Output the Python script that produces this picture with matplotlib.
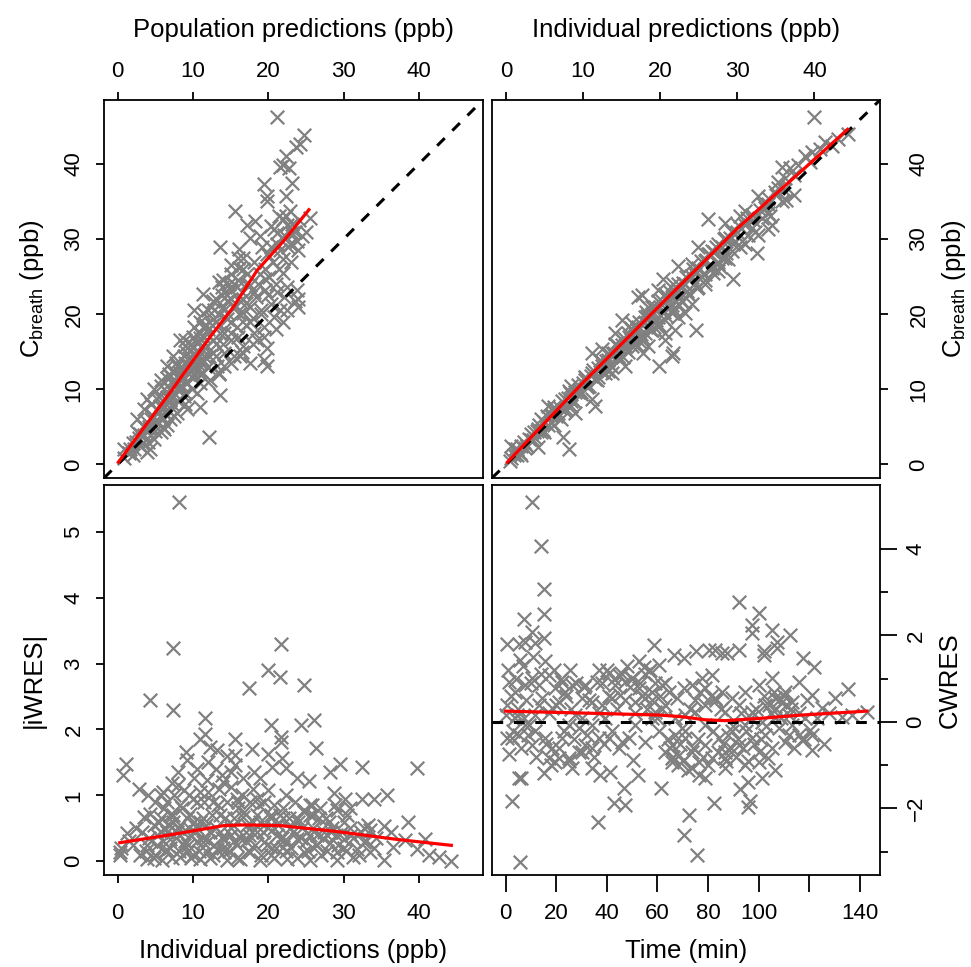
import matplotlib
matplotlib.use('Agg')
import matplotlib.pyplot as plt
from matplotlib.ticker import FixedLocator

plt.rcParams['font.family'] = ['Liberation Sans', 'DejaVu Sans']
plt.rcParams['mathtext.fontset'] = 'custom'
plt.rcParams['mathtext.rm'] = 'Liberation Sans'
plt.rcParams['mathtext.it'] = 'Liberation Sans:italic'

# ---------------- data ----------------
# Panel 1: population predictions vs observed
pred_x = [21.1,24.8,24.2,23.7,22.3,22.0,22.7,21.6,23.1,19.5,19.8,22.3,19.8,15.6,21.4,22.0,22.5,25.6,18.3,17.2,
          20.3,21.2,24.5,23.8,22.9,17.6,19.2,13.6,16.1,16.7,19.8,22.0,21.4,16.1,15.0,17.2,13.4,19.6,11.4,13.8,
          12.7,15.0,15.8,22.5,23.8,22.1,23.6,24.0,21.6,20.3,19.6,18.4,17.6,10.1,11.4,14.1,10.1,11.0,22.0,20.7,
          19.4,18.1,15.8,15.0,12.7,9.0,7.4,9.2,8.3,19.8,19.4,19.8,17.6,16.3,14.1,13.4,12.7,11.4,6.6,5.7,
          7.0,8.3,11.0,13.6,12.3,9.9,11.0,8.8,7.0,4.8,3.9,3.5,5.7,7.9,9.2,7.0,6.6,4.3,3.5,4.8,
          4.3,3.0,1.7,0.8,0.8,2.1,12.1,5.2,6.3,7.4,9.6,10.1,11.9,13.6,14.5,12.7,11.4,16.7,17.6,16.7,
          18.9,18.1,14.5,16.3,15.4,16.7,18.5,14.1,13.2,11.4,10.5,9.2,8.3,7.9,6.1,5.2,7.4,6.1,5.7,3.9,
          2.6,2.6,8.3,22.9,22.3,20.7,23.1,18.9,21.2,20.3,
          4.0,4.5,5.0,5.5,6.0,6.5,7.0,7.5,8.0,8.5,9.0,9.5,10.0,10.5,11.0,11.5,12.0,12.5,13.0,13.5,
          14.0,14.5,15.0,15.5,16.0,16.5,17.0,3.0,3.5,2.5,2.0,1.5,4.0,5.0,6.0,7.0,8.0,9.0,10.0,11.0,
          12.0,13.0,14.0,15.0,16.0,17.0,18.0,19.0,20.0,21.0,22.0,23.0,24.0,25.0,8.5,9.5,10.5,11.5,6.5,7.5,
          5.5,4.5,10.0,11.0,12.0,13.0,9.0,14.0,15.0,16.0,
          2.2,2.8,3.3,3.8,4.2,4.7,5.2,5.6,6.1,6.6,7.1,7.6,8.1,8.6,9.1,9.6,10.1,10.6,11.1,11.6,
          12.1,12.6,13.1,13.6,14.1,14.6,15.1,15.6,16.1,16.6,17.1,17.6,18.1,18.6,19.1,19.6,20.1,20.6,21.1,21.6,
          22.1,22.6,23.1,23.6,24.1,5.8,6.8,7.8,8.8,9.8,10.8,11.8,12.8,13.8,14.8,6.0,7.5,9.0,10.5,12.0,
          13.5,15.0,16.5,18.0,19.5,21.0,22.5,24.0]
pred_dv = [46.3,43.8,42.7,42.2,41.1,39.8,39.4,39.6,37.4,37.3,35.7,35.7,35.0,33.7,33.0,32.6,31.9,32.8,32.4,31.9,
           31.7,30.8,30.4,29.7,29.3,30.2,28.9,28.9,28.7,27.5,28.0,27.3,26.0,26.2,25.4,25.4,24.3,24.7,22.7,23.6,
           21.8,23.2,23.6,23.6,23.2,22.3,21.8,21.0,20.5,21.4,23.2,22.3,21.0,20.5,20.1,20.5,18.3,17.5,19.0,19.6,
           18.3,17.5,18.3,16.6,16.6,15.7,14.4,14.8,16.6,15.5,13.9,13.1,13.5,14.4,13.1,12.2,14.8,13.9,13.1,11.3,
           11.8,12.2,10.9,9.3,11.3,10.0,7.6,9.1,8.7,10.0,8.7,7.4,6.5,6.9,7.4,6.1,5.2,4.7,3.9,3.4,
           2.1,2.5,2.1,2.1,0.8,1.2,3.6,7.4,8.2,9.6,13.1,14.8,15.7,17.5,19.3,19.3,18.3,20.1,23.9,26.0,
           25.4,26.9,21.8,21.8,14.4,15.7,16.6,14.8,13.1,12.2,12.6,10.9,10.0,13.1,10.0,8.7,7.9,4.7,4.3,1.7,
           4.3,6.1,10.4,33.7,33.0,31.4,30.8,30.4,29.3,28.9,
           5.5,6.0,5.8,7.0,7.5,9.0,10.2,11.0,11.5,12.8,13.5,14.2,15.5,16.2,16.8,17.0,18.0,18.5,19.0,20.0,
           21.0,22.5,22.0,24.0,24.5,23.0,24.0,4.0,5.0,3.0,2.8,1.5,3.0,4.5,6.0,7.0,8.5,9.5,11.5,12.0,
           13.0,14.5,16.0,17.5,17.0,18.5,19.5,20.5,22.5,24.0,25.5,27.0,28.5,31.0,10.5,12.0,13.5,14.5,11.5,12.5,
           9.0,8.0,17.0,19.0,20.5,22.0,16.5,24.5,26.5,27.5,
           2.0,3.5,2.8,4.8,5.0,6.5,5.5,7.8,7.0,8.5,9.0,10.5,9.8,11.5,11.0,12.5,12.0,14.0,13.5,15.5,
           14.5,16.5,16.0,18.5,17.5,20.0,19.0,21.0,20.0,22.0,21.5,19.0,23.0,24.0,20.0,26.0,25.0,27.0,23.0,28.5,
           30.5,29.0,32.0,31.0,32.5,10.5,12.0,13.5,14.5,16.0,17.5,18.5,20.5,22.5,24.0,5.0,6.5,8.0,9.5,11.0,
           12.0,13.5,15.0,16.0,17.0,18.0,20.5,22.0]
pred_smooth_x = [0.1, 3.5, 7.0, 10.0, 12.3, 15.4, 18.5, 22.0, 25.4]
pred_smooth_y = [0.3, 4.9, 9.6, 13.8, 17.0, 21.0, 25.8, 29.7, 33.9]

# Panel 2: individual predictions vs observed
ipred_x = [39.9,44.4,43.1,40.7,38.8,39.4,35.8,36.8,35.3,37.3,32.7,34.0,26.2,28.4,31.0,30.3,31.9,34.0,32.7,32.5,
           31.0,29.7,29.5,27.5,28.0,26.2,24.9,24.1,25.8,24.5,22.3,20.4,21.7,19.7,17.6,18.4,21.5,22.8,22.3,24.7,
           21.9,20.6,21.5,19.9,17.8,16.7,16.3,15.0,14.1,12.4,11.1,13.2,14.5,16.3,15.4,13.7,12.4,11.1,10.2,11.1,
           11.5,9.3,8.5,7.6,8.9,7.2,7.4,8.2,5.9,5.4,4.6,4.1,3.7,4.1,2.8,1.5,0.65,0.65,1.95,3.25,
           5.0,6.3,6.7,8.5,9.8,10.6,11.9,12.8,13.7,15.0,15.8,17.1,18.0,18.9,19.7,20.6,21.0,19.7,18.9,18.0,
           17.6,16.3,15.4,14.5,17.1,18.4,22.3,23.2,24.1,24.9,25.8,26.7,27.5,28.4,29.3,30.1,31.0,31.9,33.2,33.6,
           34.5,31.4,30.6,29.3,28.4,27.5,26.7,25.8,24.9,23.6,22.3,21.5,20.6,19.7,23.2,24.1,21.7,20.6,36.2,37.9,
           39.7,41.4,42.3,34.9,34.0,35.8,17.1,
           1.0,1.5,2.0,2.5,3.0,3.5,4.0,4.5,5.0,5.5,6.0,6.5,7.0,7.5,8.0,8.5,9.0,9.5,10.0,10.5,
           11.0,11.5,12.0,12.5,13.0,13.5,14.0,14.5,15.0,15.5,16.0,16.5,17.0,17.5,18.0,18.5,19.0,19.5,20.0,20.5,
           21.0,21.5,22.0,22.5,23.0,23.5,24.0,24.5,25.0,25.5,26.0,26.5,27.0,27.5,28.0,28.5,29.0,29.5,30.0,31.0,
           32.0,33.0,34.0,35.0,36.0,10.2,12.2,14.2,16.2,18.2,8.2,6.2,13.2,15.2,17.2,19.2,
           0.5,1.2,1.8,2.3,2.8,3.3,3.8,4.3,4.8,5.3,5.8,6.3,6.8,7.3,7.8,8.3,8.8,9.3,9.8,10.3,
           10.8,11.3,11.8,12.3,12.8,13.3,13.8,14.3,14.8,15.3,15.8,16.3,16.8,17.3,17.8,18.3,18.8,19.3,19.8,20.3,
           20.8,21.3,21.8,22.3,22.8,23.3,23.8,24.3,24.8,25.3,25.8,26.3,26.8,27.3,27.8,28.3,28.8,29.3,30.3,31.3,
           32.3,33.3,34.3,35.3,36.3,37.3]
ipred_dv = [46.3,44.0,43.3,42.0,41.1,40.3,39.6,39.4,37.6,35.9,35.7,35.4,32.6,32.1,33.7,33.0,31.5,31.3,30.6,28.2,
            29.3,29.7,24.7,25.8,27.5,28.0,28.9,26.7,24.0,25.4,26.4,24.7,24.0,23.2,22.5,21.0,22.3,21.8,19.6,17.9,
            17.9,17.5,14.4,13.1,14.8,17.5,18.8,19.2,17.5,15.3,14.8,13.9,14.4,15.7,13.1,12.2,13.1,12.2,11.3,8.7,
            7.8,9.6,10.4,8.7,6.9,6.1,3.6,2.1,6.5,7.8,6.1,4.7,4.3,2.3,2.5,2.1,2.5,0.8,1.2,3.2,
            4.3,5.2,6.9,7.8,9.6,10.4,11.7,13.1,14.8,16.6,17.5,18.3,19.6,21.0,21.8,22.7,21.0,19.6,17.9,17.5,
            16.6,16.6,15.7,15.7,15.7,15.7,23.2,24.0,24.9,26.2,27.1,28.4,29.3,30.2,31.1,31.9,32.4,33.2,32.8,34.1,
            31.9,30.6,29.7,28.4,27.5,26.7,26.2,25.4,23.6,22.7,21.4,20.1,19.2,18.3,20.1,21.4,14.8,16.6,38.1,39.8,
            41.6,42.9,42.4,36.3,34.6,35.0,22.3,
            1.3,1.2,2.4,2.2,3.4,3.3,4.5,4.3,5.6,5.2,6.6,6.4,7.5,7.2,8.8,8.4,9.6,9.9,10.8,10.3,
            11.8,11.4,12.9,12.3,13.8,13.3,14.9,14.2,15.9,15.3,16.9,16.2,18.0,17.3,18.9,18.2,20.0,19.2,21.0,20.3,
            22.1,21.2,23.0,22.2,24.2,23.1,25.1,24.2,26.0,25.4,27.2,26.1,28.3,27.0,29.0,28.1,30.2,29.3,31.0,31.8,
            32.5,33.9,33.5,35.8,36.5,11.6,13.9,16.0,18.1,20.3,9.8,7.6,12.4,14.3,16.4,18.3,
            0.4,2.0,1.5,3.0,2.4,4.0,3.5,5.3,4.6,6.4,5.5,7.4,6.5,8.4,7.4,9.5,8.5,10.6,9.4,11.7,
            10.5,12.6,11.2,13.8,12.2,14.8,13.0,15.9,14.0,16.8,15.0,17.9,16.0,18.9,16.8,19.8,17.9,20.9,18.6,21.8,
            19.8,22.9,20.6,24.0,21.6,25.0,22.5,26.0,23.5,27.1,24.5,28.0,25.5,29.0,26.3,30.0,27.3,31.0,29.0,32.8,
            31.0,34.6,33.0,36.8,35.2,38.5]
ipred_smooth_x = [0.2, 10.0, 20.0, 30.0, 40.0, 44.3]
ipred_smooth_y = [0.3, 10.9, 21.2, 31.4, 40.6, 44.6]

# Panel 3: individual predictions vs |iWRES|
res_x = [8.2,7.3,21.7,20.0,21.5,24.7,17.4,4.3,7.4,11.6,26.1,24.4,20.3,11.6,10.9,15.6,21.7,21.7,12.3,13.2,
         17.8,26.3,9.1,9.2,20.0,15.6,21.8,1.1,0.7,29.5,32.4,39.8,28.2,20.5,22.3,15.6,15.0,13.9,18.1,16.7,
         18.9,8.0,10.1,11.9,23.8,25.4,7.2,2.9,5.7,8.8,11.0,15.0,20.0,22.3,35.8,28.7,32.4,34.1,30.2,30.9,
         18.5,17.6,15.8,12.7,10.5,8.3,6.1,20.7,25.6,26.9,24.7,29.1,3.5,4.3,5.7,7.4,9.6,11.4,13.6,16.7,
         20.3,22.0,23.8,26.0,27.6,30.0,35.4,38.6,32.7,33.5,30.9,1.2,2.1,0.35,0.35,3.9,5.2,6.1,7.0,7.9,
         8.8,9.6,10.5,11.4,12.3,13.2,14.1,15.0,15.8,16.7,17.6,18.5,19.4,20.3,21.2,22.0,22.9,23.8,24.7,25.6,
         26.5,27.4,28.2,29.1,30.0,31.8,32.7,33.5,35.3,36.6,38.2,39.8,40.8,41.3,42.6,44.2,3.9,5.9,8.3,11.0,
         12.7,14.5,16.3,18.9,22.5,25.6,29.1,31.3,6.6,9.2,11.9,14.1,7.4,6.6,8.3,9.2,4.8,10.1,13.6,15.4,
         17.2,18.9,20.7,21.6,
         5.0,6.0,7.0,8.0,9.0,10.0,11.0,12.0,13.0,14.0,15.0,16.0,17.0,18.0,19.0,20.0,21.0,22.0,23.0,24.0,
         25.0,26.0,27.0,28.0,29.0,30.0,31.0,32.0,33.0,34.0,4.5,5.5,6.5,7.5,8.5,9.5,10.5,11.5,12.5,13.5,
         14.5,15.5,16.5,17.5,18.5,19.5,20.5,21.5,22.5,23.5,24.5,25.5,26.5,28.5,30.5,2.5,3.0,1.5,0.5,
         3.2,3.8,4.2,4.8,5.3,5.8,6.3,6.8,7.2,7.8,8.2,8.7,9.3,9.8,10.3,10.8,11.3,11.8,12.3,12.8,
         13.3,13.8,14.3,14.8,15.3,15.8,16.3,16.8,17.3,17.8,18.3,18.8,19.3,19.8,20.3,20.8,21.3,21.8,22.3,22.8,
         23.3,23.8,24.3,24.8,25.3,25.8,26.3,26.8,27.3,27.8,28.3,28.8,29.3,29.8,30.3,31.3,32.3,33.3,34.3,36.3,
         6.0,8.0,10.0,12.0,14.0,16.0,18.0,13.0,12.0,14.5,10.5,9.5,7.0,5.0,4.0]
iwres_abs = [5.45,3.23,3.29,2.90,2.80,2.67,2.63,2.45,2.30,2.18,2.15,2.06,2.06,1.93,1.86,1.86,1.89,1.81,1.74,1.69,
             1.71,1.72,1.66,1.53,1.62,1.61,1.56,1.48,1.31,1.48,1.43,1.41,1.36,1.43,1.41,1.46,1.36,1.31,1.36,1.26,
             1.26,1.35,1.26,1.23,1.26,1.22,1.18,1.09,1.01,1.08,1.05,1.13,1.08,1.00,1.01,1.03,0.94,0.94,0.94,0.80,
             0.95,0.90,0.95,0.90,0.90,0.85,0.80,0.85,0.85,0.80,0.78,0.78,0.67,0.72,0.65,0.70,0.72,0.65,0.70,0.67,
             0.70,0.65,0.65,0.70,0.65,0.60,0.54,0.60,0.50,0.47,0.50,0.42,0.24,0.14,0.10,0.24,0.40,0.50,0.34,0.45,
             0.24,0.40,0.50,0.29,0.45,0.19,0.34,0.50,0.24,0.40,0.14,0.45,0.29,0.09,0.40,0.22,0.50,0.34,0.14,0.40,
             0.24,0.45,0.27,0.14,0.34,0.19,0.29,0.14,0.02,0.22,0.32,0.19,0.33,0.09,0.07,0.01,0.04,0.02,0.07,0.04,
             0.09,0.02,0.04,0.02,0.04,0.02,0.02,0.07,0.17,0.14,0.14,0.14,0.60,0.45,0.55,0.65,0.55,0.60,0.45,0.65,
             0.55,0.60,0.50,0.34,
             0.10,0.30,0.20,0.50,0.30,0.10,0.60,0.30,0.50,0.20,0.40,0.80,0.30,0.60,0.10,0.50,0.20,0.80,0.20,0.60,
             0.30,0.50,0.10,0.60,0.40,0.20,0.40,0.10,0.30,0.20,0.30,0.60,0.90,1.00,0.80,0.50,0.30,0.90,0.70,1.10,
             0.90,0.30,1.00,0.40,0.70,0.90,0.20,0.70,0.30,0.90,0.50,0.70,0.40,0.50,0.70,0.50,0.10,0.30,0.20,
             0.45,0.15,0.35,0.05,0.25,0.45,0.15,0.55,0.05,0.35,0.15,0.45,0.25,0.05,0.45,0.15,0.35,0.55,0.05,0.25,
             0.85,0.35,0.65,0.15,0.55,0.05,0.35,0.75,0.15,0.45,0.25,0.85,0.45,0.25,0.65,0.05,0.55,0.35,0.15,0.65,
             0.45,0.05,0.35,0.75,0.15,0.85,0.25,0.65,0.35,0.15,0.45,0.85,0.25,0.45,0.15,0.35,0.45,0.55,0.35,0.45,
             1.05,1.15,0.95,1.05,1.20,0.90,1.10,1.40,1.50,1.60,1.40,1.00,0.70,0.90,1.00]
res_smooth_x = [0.3, 7.0, 14.1, 16.7, 21.6, 29.1, 37.1, 44.3]
res_smooth_y = [0.28, 0.40, 0.54, 0.55, 0.54, 0.45, 0.33, 0.24]

# Panel 4: time vs CWRES
time_x = [10.4,14.0,15.3,15.3,15.3,7.4,10.4,0.5,5.1,7.8,5.8,11.7,92.4,100.0,97.4,97.4,105.3,112.5,107.2,107.2,
          102.0,102.0,58.8,66.4,70.4,75.4,80.2,82.9,85.5,87.5,92.1,117.4,122.1,135.3,130.3,125.0,142.8,136.9,133.0,2.5,
          5.1,6.2,5.8,1.2,0.5,2.5,15.3,36.5,42.7,47.3,46.6,52.2,50.3,61.4,72.3,70.4,75.5,82.5,92.8,96.7,
          96.0,96.0,101.3,106.6,121.1,120.4,117.1,26.2,34.1,37.4,41.4,65.7,73.6,78.9,86.8,
          36.8,36.1,40.7,44.7,47.3,49.9,52.6,54.5,56.5,60.5,61.8,64.4,67.7,70.4,73.6,77.6,81.6,78.9,85.5,89.5,
          94.7,100.0,105.3,110.5,113.2,115.8,109.2,106.6,102.6,97.4,92.1,86.8,82.9,75.0,71.0,67.1,63.1,59.2,55.2,51.3,
          45.4,42.0,38.1,34.1,30.2,26.2,25.6,22.3,19.6,17.0,15.7,13.0,10.4,7.8,3.8,1.2,0.5,4.5,7.1,9.1,
          11.7,15.7,18.3,20.9,22.3,24.9,27.5,28.9,31.5,34.1,36.8,39.4,42.0,44.7,48.6,51.3,55.2,57.8,60.5,63.1,
          65.7,68.4,71.0,73.6,76.3,78.9,81.6,84.2,86.8,89.5,92.1,94.7,97.4,100.0,102.6,105.3,107.9,110.5,113.2,115.8,
          118.4,121.1,111.9,106.6,101.3,78.9,69.7,65.7,76.3,86.8,94.7,100.0,103.9,24.9,19.6,17.0,10.4,7.8,5.1,3.8,
          11.7,18.3,20.9,14.4,23.6,31.5,43.4,52.6,57.8,40.7,45.9,34.1,30.2,0.0,
          1,2,3,4,5,6,7,8,9,10,11,12,13,14,16,17,18,19,20,21,
          22,23,24,25,26,27,28,29,30,31,32,33,35,37,38,39,40,41,43,44,
          46,47,48,49,50,51,53,54,55,56,57,58,59,60,61,62,63,64,65,66,
          67,68,69,70,71,72,73,74,75,76,77,78,79,80,81,82,83,84,85,86,
          87,88,89,90,91,92,93,94,95,96,97,98,99,101,102,103,104,105,106,107,
          108,109,110,111,112,113,114,116,118,119,121,123,126,128]
cwres = [5.08,4.08,3.08,2.50,1.94,2.38,2.09,1.80,1.80,1.86,1.44,1.82,2.77,2.52,2.25,2.05,2.13,2.00,1.86,1.71,
         1.63,1.55,1.78,1.54,1.47,1.63,1.67,1.67,1.59,1.59,1.67,1.47,1.28,0.76,0.55,0.32,0.24,0.16,0.12,-1.82,
         -1.30,-1.30,-3.23,-0.73,-0.38,-0.38,-1.19,-2.32,-1.88,-1.92,-1.52,-1.23,-0.88,-1.52,-2.15,-2.62,-3.08,-1.88,-1.54,-1.84,
         -1.96,-1.38,-1.30,-1.11,-0.65,-0.19,-0.42,-1.07,-1.07,-1.23,-1.15,-0.92,-1.07,-1.30,-1.07,
         1.20,0.93,1.13,1.09,0.93,1.01,1.40,1.28,1.17,1.32,0.86,0.70,0.55,0.78,0.86,1.01,1.09,0.78,0.70,0.55,
         0.70,0.86,1.01,0.70,0.47,0.93,0.47,0.55,0.39,0.24,0.39,0.24,0.55,0.24,0.16,0.08,0.39,0.24,0.55,0.47,
         0.62,0.55,0.39,0.47,0.55,0.86,1.20,0.93,0.78,1.09,1.40,0.86,1.01,0.86,0.70,0.93,0.39,0.16,0.08,-0.07,
         -0.22,-0.38,-0.61,-0.84,-0.38,-0.07,0.16,-0.15,-0.53,-0.07,-0.38,0.08,-0.22,-0.61,-0.38,-0.07,-0.46,0.08,-0.22,-0.69,
         -0.53,-0.76,-0.38,-0.69,-0.92,-0.53,-0.84,-0.38,-0.69,-0.22,-0.53,-0.07,-0.38,-0.69,-0.30,-0.61,-0.15,-0.46,-0.07,-0.30,
         0.08,0.62,0.16,0.08,0.01,-0.07,-0.15,-0.84,-1.23,-0.84,-1.00,-0.92,-0.84,-0.84,-0.92,-0.84,-0.53,-0.07,-0.30,0.08,
         0.16,0.32,0.47,0.55,0.70,0.86,0.86,0.78,0.70,-0.38,-0.46,-0.61,-0.69,0.16,
         1.2,0.6,-0.2,1.0,0.3,-0.6,1.3,0.5,-0.3,0.9,1.5,-0.8,0.4,1.1,-0.5,0.2,-1.0,1.2,0.4,-0.6,
         1.0,-0.2,0.6,-0.9,0.3,-0.4,0.9,-0.7,0.1,0.8,-0.3,0.5,-0.8,0.2,0.9,-0.5,1.2,0.6,1.0,0.3,
         1.1,0.5,1.3,0.8,1.0,0.2,0.9,0.6,1.1,0.3,1.2,0.5,0.9,0.1,0.6,0.3,0.9,-0.4,-0.6,-0.8,
         -0.3,-1.0,-0.5,-0.9,-0.2,-1.1,0.3,-0.6,0.5,-0.4,0.7,-0.8,0.4,-1.0,0.6,-0.2,0.5,-0.7,0.3,-0.5,
         -0.9,-0.3,-0.6,-0.1,-0.8,-0.4,0.2,-0.6,-0.2,-0.9,0.1,-0.5,0.3,-0.4,0.6,-0.1,0.4,0.2,0.7,0.3,
         0.5,0.1,0.6,0.4,-0.3,0.3,-0.6,0.2,-0.4,0.5,-0.3,0.1,-0.5,0.2]
cwres_smooth_x = [0.0, 34.1, 60.5, 69.7, 78.9, 86.8, 100.0, 117.1, 142.8]
cwres_smooth_y = [0.25, 0.20, 0.16, 0.12, 0.05, 0.03, 0.08, 0.16, 0.25]

conc_ticks = [0, 10, 20, 30, 40]
iwres_ticks = [0, 1, 2, 3, 4, 5]
time_ticks = [0, 20, 40, 60, 80, 100, 120, 140]
time_tick_labels = ['0', '20', '40', '60', '80', '100', '', '140']
cwres_major = [-2, 0, 2, 4]
cwres_major_labels = ['\u22122', '0', '2', '4']
cwres_minor = [-3, -1, 1, 3]

label_pred = 'Population predictions (ppb)'
label_ipred = 'Individual predictions (ppb)'
label_time = 'Time (min)'
label_conc = r'$\mathregular{C_{breath}}$ (ppb)'
label_iwres = '|iWRES|'
label_cwres = 'CWRES'

# ---------------- styling ----------------
W, H = 971, 967
fig = plt.figure(figsize=(W / 100, H / 100), dpi=100)

def px_axes(x0, y0, x1, y1):
    return fig.add_axes([x0 / W, 1 - y1 / H, (x1 - x0) / W, (y1 - y0) / H])

ax_tl = px_axes(104, 100, 483, 478)
ax_tr = px_axes(492, 100, 880, 478)
ax_bl = px_axes(104, 485, 483, 875)
ax_br = px_axes(492, 485, 880, 875)

GREY = '#808080'
pt_kw = dict(marker='x', color=GREY, s=95, linewidths=1.6, zorder=2)
red_kw = dict(color='#ff0000', lw=2.3, zorder=4)
dash_kw = dict(color='black', lw=2.2, ls=(0, (3.5, 3.5)), zorder=3)
TICK_FS = 16
LAB_FS = 18.5
conc_lim = (-1.8, 48.5)

for ax in (ax_tl, ax_tr, ax_bl, ax_br):
    for sp in ax.spines.values():
        sp.set_linewidth(1.3)
    ax.tick_params(direction='out', width=1.3, length=6, labelsize=TICK_FS, colors='black')

# top-left
ax_tl.scatter(pred_x, pred_dv, **pt_kw)
ax_tl.plot(pred_smooth_x, pred_smooth_y, **red_kw)
ax_tl.axline((0, 0), slope=1, **dash_kw)
ax_tl.set_xlim(conc_lim); ax_tl.set_ylim(conc_lim)
ax_tl.set_xticks(conc_ticks); ax_tl.set_yticks(conc_ticks)
ax_tl.tick_params(axis='x', bottom=False, top=True, labelbottom=False, labeltop=True, pad=7)
ax_tl.tick_params(axis='y', left=True, right=False, labelleft=True, pad=8)
ax_tl.xaxis.set_label_position('top')
ax_tl.set_xlabel(label_pred, fontsize=LAB_FS, labelpad=17)
ax_tl.set_ylabel(label_conc, fontsize=LAB_FS, labelpad=13)
for t in ax_tl.get_yticklabels():
    t.set_rotation(90); t.set_va('center')

# top-right
ax_tr.scatter(ipred_x, ipred_dv, **pt_kw)
ax_tr.plot(ipred_smooth_x, ipred_smooth_y, **red_kw)
ax_tr.axline((0, 0), slope=1, **dash_kw)
ax_tr.set_xlim(conc_lim); ax_tr.set_ylim(conc_lim)
ax_tr.set_xticks(conc_ticks); ax_tr.set_yticks(conc_ticks)
ax_tr.tick_params(axis='x', bottom=False, top=True, labelbottom=False, labeltop=True, pad=7)
ax_tr.tick_params(axis='y', left=False, right=True, labelleft=False, labelright=True, pad=22)
ax_tr.xaxis.set_label_position('top')
ax_tr.yaxis.set_label_position('right')
ax_tr.set_xlabel(label_ipred, fontsize=LAB_FS, labelpad=17)
ax_tr.set_ylabel(label_conc, fontsize=LAB_FS, labelpad=8, rotation=90)
for t in ax_tr.get_yticklabels():
    t.set_rotation(90); t.set_va('center'); t.set_ha('center')

# bottom-left
ax_bl.scatter(res_x, iwres_abs, **pt_kw)
ax_bl.plot(res_smooth_x, res_smooth_y, **red_kw)
ax_bl.set_xlim(conc_lim); ax_bl.set_ylim(-0.21, 5.71)
ax_bl.set_xticks(conc_ticks); ax_bl.set_yticks(iwres_ticks)
ax_bl.tick_params(axis='x', pad=14)
ax_bl.tick_params(axis='y', pad=8)
ax_bl.set_xlabel(label_ipred, fontsize=LAB_FS, labelpad=11)
ax_bl.set_ylabel(label_iwres, fontsize=LAB_FS, labelpad=13)
for t in ax_bl.get_yticklabels():
    t.set_rotation(90); t.set_va('center')

# bottom-right
ax_br.scatter(time_x, cwres, **pt_kw)
ax_br.plot(cwres_smooth_x, cwres_smooth_y, **red_kw)
ax_br.axhline(0, **dash_kw)
ax_br.set_xlim(-5.4, 148); ax_br.set_ylim(-3.54, 5.48)
ax_br.set_xticks(time_ticks)
ax_br.set_xticklabels(time_tick_labels)
ax_br.yaxis.set_major_locator(FixedLocator(cwres_major))
ax_br.yaxis.set_minor_locator(FixedLocator(cwres_minor))
ax_br.tick_params(axis='x', length=12, pad=8)
ax_br.tick_params(axis='y', which='major', left=False, right=True, labelleft=False, labelright=True, length=12, pad=14)
ax_br.tick_params(axis='y', which='minor', left=False, right=True, length=6, width=1.3)
ax_br.yaxis.set_label_position('right')
ax_br.set_xlabel(label_time, fontsize=LAB_FS, labelpad=11)
ax_br.set_ylabel(label_cwres, fontsize=LAB_FS, labelpad=8, rotation=90)
ax_br.set_yticklabels(cwres_major_labels)
for t in ax_br.get_yticklabels():
    t.set_rotation(90); t.set_va('center'); t.set_ha('center')

fig.savefig('out.png', dpi=100)
